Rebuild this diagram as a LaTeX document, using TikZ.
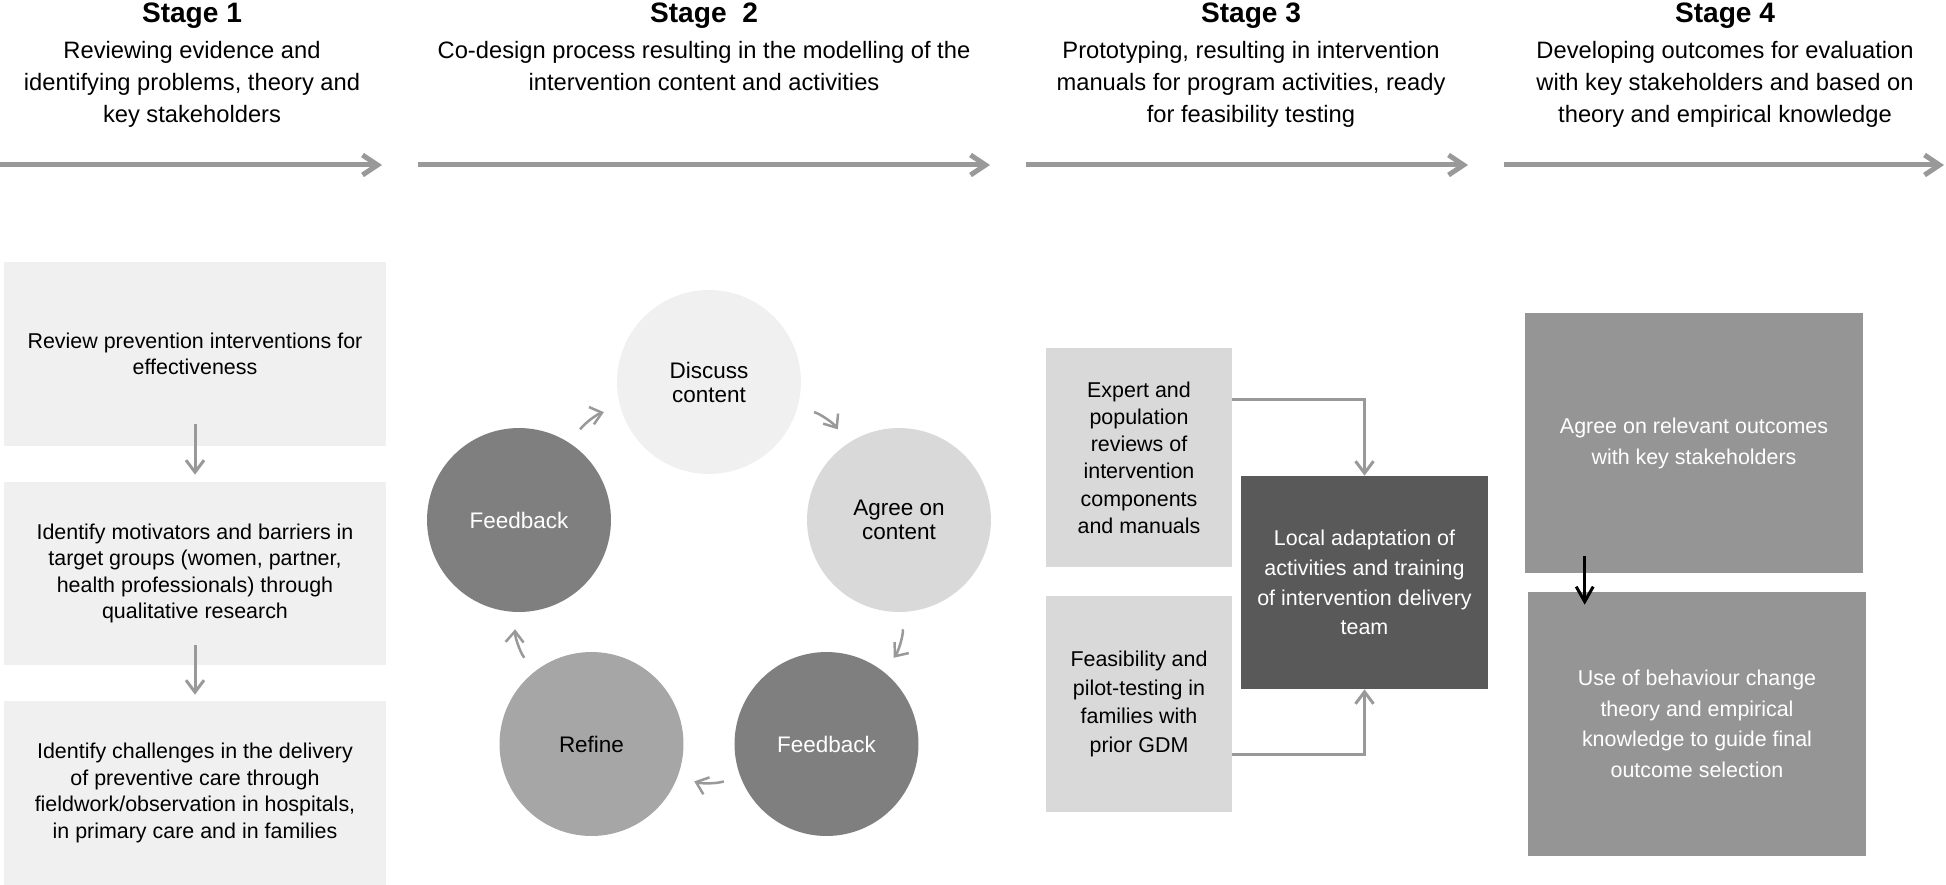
\documentclass[tikz,border=0pt]{standalone}
\usepackage{fontspec}
\setmainfont{Liberation Sans}
\usetikzlibrary{arrows.meta, positioning, calc}

\definecolor{linegray}{HTML}{999999}
\definecolor{palegray}{HTML}{F0F0F0}
\definecolor{lightgray}{HTML}{D9D9D9}
\definecolor{midgray}{HTML}{A6A6A6}
\definecolor{fbgray}{HTML}{7F7F7F}
\definecolor{outgray}{HTML}{959595}
\definecolor{deepgray}{HTML}{595959}

\begin{document}
\begin{tikzpicture}[x=0.02cm, y=-0.02cm,
    stagetitle/.style={font=\fontsize{16}{19}\selectfont\bfseries, inner sep=0pt},
    stagedesc/.style={font=\fontsize{13.5}{18.2}\selectfont, align=center, inner sep=0pt, anchor=north},
    timeline/.style={draw=linegray, line width=0.1cm, -{Straight Barb[length=0.3cm, width=0.4cm]}},
    box/.style={rectangle, inner sep=0pt, align=center, font=\fontsize{12.2}{15.1}\selectfont},
    cyc/.style={circle, minimum size=3.68cm, inner sep=0pt, align=center, font=\fontsize{12.8}{13.7}\selectfont},
    cycarrow/.style={draw=linegray, line width=0.05cm, -{Straight Barb[length=0.22cm, width=0.36cm]}, shorten <=0.34cm, shorten >=0.34cm},
    flow/.style={draw=linegray, line width=0.06cm, -{Straight Barb[length=0.24cm, width=0.36cm]}},
]
    \useasboundingbox (0,0) rectangle (1946,885);

    % headers
    \node[stagetitle] (s1) at (192,16) {Stage 1};
    \node[stagetitle] (s2) at (704,16) {Stage\ \ 2};
    \node[stagetitle] (s3) at (1251,16) {Stage 3};
    \node[stagetitle] (s4) at (1725,16) {Stage 4};

    \node[stagedesc] (d1) at (192,41) {Reviewing evidence and\\identifying problems, theory and\\key stakeholders};
    \node[stagedesc] (d2) at (704,41) {Co-design process resulting in the modelling of the\\intervention content and activities};
    \node[stagedesc] (d3) at (1251,41) {Prototyping, resulting in intervention\\manuals for program activities, ready\\for feasibility testing};
    \node[stagedesc] (d4) at (1725,41) {Developing outcomes for evaluation\\with key stakeholders and based on\\theory and empirical knowledge};

    \coordinate (t1a) at (0,165);    \coordinate (t1b) at (382,165);
    \coordinate (t2a) at (418,165);  \coordinate (t2b) at (990,165);
    \coordinate (t3a) at (1026,165); \coordinate (t3b) at (1468,165);
    \coordinate (t4a) at (1504,165); \coordinate (t4b) at (1944,165);
    \draw[timeline] (t1a) -- (t1b);
    \draw[timeline] (t2a) -- (t2b);
    \draw[timeline] (t3a) -- (t3b);
    \draw[timeline] (t4a) -- (t4b);

    % stage 1
    \node[box, fill=palegray, minimum width=7.64cm, minimum height=3.68cm] (rev) at (195,354) {Review prevention interventions for\\effectiveness};
    \node[box, fill=palegray, minimum width=7.64cm, minimum height=3.66cm] (mot) at (195,573.5) {Identify motivators and barriers in\\target groups (women, partner,\\health professionals) through\\qualitative research};
    \node[box, fill=palegray, minimum width=7.64cm, minimum height=3.68cm] (chal) at (195,793) {Identify challenges in the delivery\\of preventive care through\\fieldwork/observation in hospitals,\\in primary care and in families};

    \draw[flow] ($(rev.south)+(0,-22)$) -- ($(mot.north)+(0,-7)$);
    \draw[flow] ($(mot.south)+(0,-20)$) -- ($(chal.north)+(0,-6)$);

    % stage 2
    \node[cyc, fill=palegray] (dis) at (709,382) {Discuss\\content};
    \node[cyc, fill=lightgray] (agr) at (899,520) {Agree on\\content};
    \node[cyc, fill=fbgray, text=white] (fbr) at (826.5,744) {Feedback};
    \node[cyc, fill=midgray] (ref) at (591.5,744) {Refine};
    \node[cyc, fill=fbgray, text=white] (fbl) at (519,520) {Feedback};

    \draw[cycarrow] (dis) to[bend left=20] (agr);
    \draw[cycarrow] (agr) to[bend left=20] (fbr);
    \draw[cycarrow] (fbr) to[bend left=20] (ref);
    \draw[cycarrow] (ref) to[bend left=20] (fbl);
    \draw[cycarrow] (fbl) to[bend left=20] (dis);

    % stage 3
    \node[box, fill=lightgray, minimum width=3.72cm, minimum height=4.38cm, font=\fontsize{12.2}{15.5}\selectfont] (exp) at (1139,457.5) {Expert and\\population\\reviews of\\intervention\\components\\and manuals};
    \node[box, fill=lightgray, minimum width=3.72cm, minimum height=4.32cm, font=\fontsize{12.2}{16.2}\selectfont] (fea) at (1139,704) {Feasibility and\\pilot-testing in\\families with\\prior GDM};
    \node[box, fill=deepgray, text=white, minimum width=4.94cm, minimum height=4.26cm, font=\fontsize{12.2}{17}\selectfont] (loc) at (1364.5,582.5) {Local adaptation of\\activities and training\\of intervention delivery\\team};

    \draw[flow] ([yshift=1.17cm]exp.east) -| (loc.north);
    \draw[flow] ([yshift=-1.02cm]fea.east) -| (loc.south);

    % stage 4
    \node[box, fill=outgray, text=white, minimum width=6.76cm, minimum height=5.2cm, font=\fontsize{12.2}{17.6}\selectfont] (outc) at (1694,443) {Agree on relevant outcomes\\with key stakeholders};
    \node[box, fill=outgray, text=white, minimum width=6.76cm, minimum height=5.28cm, font=\fontsize{12.2}{17.4}\selectfont] (theo) at (1697,724) {Use of behaviour change\\theory and empirical\\knowledge to guide final\\outcome selection};

    \draw[line width=0.06cm, -{Straight Barb[length=0.3cm, width=0.34cm]}] ($(outc.south west)+(60,-17)$) -- ($(theo.north west)+(57,13)$);
\end{tikzpicture}
\end{document}
